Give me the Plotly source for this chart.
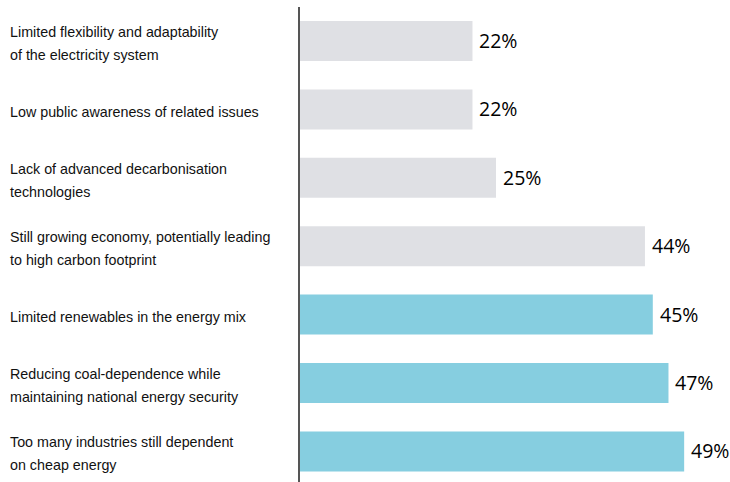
import plotly.graph_objects as go

categories = [
    ["Limited flexibility and adaptability", "of the electricity system"],
    ["Low public awareness of related issues"],
    ["Lack of advanced decarbonisation", "technologies"],
    ["Still growing economy, potentially leading", "to high carbon footprint"],
    ["Limited renewables in the energy mix"],
    ["Reducing coal-dependence while", "maintaining national energy security"],
    ["Too many industries still dependent", "on cheap energy"],
]
values = [22, 22, 25, 44, 45, 47, 49]
highlight = [False, False, False, False, True, True, True]
value_labels = [f"{v}%" for v in values]

GRAY = "#dfe0e4"
TEAL = "#86cee0"

W, H = 730, 482
ML, MR, MT, MB = 300, 0, 7, 0
PW = W - ML - MR

ypos = list(range(len(values)))
colors = [TEAL if h else GRAY for h in highlight]

fig = go.Figure(go.Bar(
    x=values, y=ypos, orientation="h",
    marker=dict(color=colors, line=dict(width=0)),
    width=0.585, hoverinfo="skip",
))

annotations = []
for i, lines in enumerate(categories):
    n = len(lines)
    for j, line in enumerate(lines):
        shift = (n - 1) * 11.5 - j * 23 - 2.5
        annotations.append(dict(
            text=line, xref="paper", yref="y",
            x=(8 - ML) / PW, y=i, xanchor="left", yanchor="middle",
            yshift=shift, showarrow=False, align="left",
            font=dict(family="Liberation Sans, Arial", size=14.3, color="#111111"),
        ))
    annotations.append(dict(
        text=value_labels[i], xref="x", yref="y", x=values[i], y=i,
        xanchor="left", yanchor="middle", xshift=5, yshift=0.5, showarrow=False,
        font=dict(family="Open Sans", size=19.5, color="#000000"),
    ))

fig.update_layout(
    width=W, height=H,
    margin=dict(l=ML, r=MR, t=MT, b=MB, pad=0),
    paper_bgcolor="white", plot_bgcolor="white",
    showlegend=False,
    annotations=annotations,
    xaxis=dict(range=[0, PW / 7.84], visible=False, fixedrange=True),
    yaxis=dict(range=[6.447, -0.497], showline=True, linecolor="#555555",
               linewidth=1.5, showticklabels=False, ticks="", showgrid=False,
               zeroline=False, fixedrange=True),
)

fig.write_html("out.html", config={"displayModeBar": False},
               post_script="document.body.style.margin='0';document.body.style.overflow='hidden';")
